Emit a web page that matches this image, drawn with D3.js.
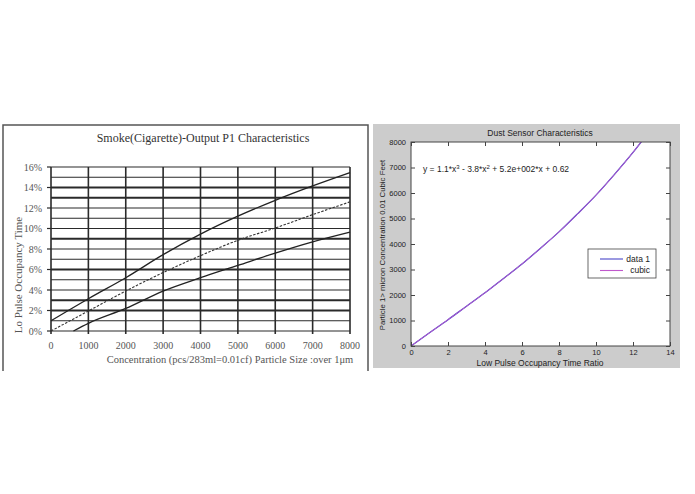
<!DOCTYPE html>
<html><head><meta charset="utf-8">
<script src="https://cdn.jsdelivr.net/npm/d3@7"></script>
<style>body{margin:0;background:#fff}svg{display:block}</style>
</head><body>
<svg id="c" width="695" height="494"></svg>
<script>
// ---------- Left chart data ----------
const smokeTitle = "Smoke(Cigarette)-Output P1 Characteristics";
const smokeXTicks = [0,1000,2000,3000,4000,5000,6000,7000,8000];
const smokeYTicks = [0,2,4,6,8,10,12,14,16];
const smokeYTickLabels = ["0%","2%","4%","6%","8%","10%","12%","14%","16%"];
const upperX = [0,1000,2000,3000,4000,5000,6000,7000,8000];
const upperY = [1.0,3.15,5.2,7.45,9.45,11.2,12.75,14.15,15.45];
const midX   = [0,1000,2000,3000,4000,5000,6000,7000,8000];
const midY   = [0,1.95,3.9,5.7,7.35,8.85,10.05,11.35,12.6];
const lowerX = [600,1000,2000,3000,4000,5000,6000,7000,8000];
const lowerY = [0,0.75,2.2,3.9,5.2,6.4,7.6,8.7,9.65];

// ---------- Right chart data ----------
const dustTitle = "Dust Sensor Characteristics";
const dustXTicks = [0,2,4,6,8,10,12,14];
const dustYTicks = [0,1000,2000,3000,4000,5000,6000,7000,8000];
const data1X = [0,1,2,3,4,5,6,7,8,9,10,11,12,12.6];
const data1Y = [0,520,1030,1560,2085,2650,3215,3835,4475,5180,5915,6730,7590,8150];
const cubicX = [0,0.5,1,1.5,2,2.5,3,3.5,4,4.5,5,5.5,6,6.5,7,7.5,8,8.5,9,9.5,10,10.5,11,11.5,12,12.5,13];
const cubicY = [1,261,518,774,1034,1294,1556,1821,2090,2364,2643,2928,3221,3522,3831,4150,4480,4820,5174,5540,5920,6314,6724,7150,7594,8055,8533];

const svg = d3.select("#c");
const serif = "'Liberation Serif','DejaVu Serif',serif";
const sans = "'Liberation Sans',Arial,sans-serif";

// ================= LEFT =================
const L = svg.append("g");
L.append("path").attr("d","M3,371V125H368V371").attr("fill","none").attr("stroke","#555").attr("stroke-width",1.5);
const lx = d3.scaleLinear().domain([0,8000]).range([51,350]);
const ly = d3.scaleLinear().domain([0,16]).range([331,167]);

L.append("text").attr("x",203).attr("y",142).attr("text-anchor","middle")
 .attr("font-family",serif).attr("font-size",12).attr("fill","#333").text(smokeTitle);

// horizontal grid every 1%
const hg = d3.range(0,17);
L.append("g").selectAll("line").data(hg).join("line")
 .attr("x1",lx(0)).attr("x2",lx(8000)).attr("y1",d=>ly(d)).attr("y2",d=>ly(d))
 .attr("stroke","#2a2a2a").attr("stroke-width",d=>[2,3,6,9,13,14].includes(d)?1.9:1.2);
// vertical grid
L.append("g").selectAll("line").data(smokeXTicks).join("line")
 .attr("x1",d=>lx(d)).attr("x2",d=>lx(d)).attr("y1",ly(16)).attr("y2",ly(0)+3)
 .attr("stroke","#2a2a2a").attr("stroke-width",1.6);
// y tick marks
L.append("g").selectAll("line").data(smokeYTicks).join("line")
 .attr("x1",lx(0)-4).attr("x2",lx(0)).attr("y1",d=>ly(d)).attr("y2",d=>ly(d))
 .attr("stroke","#2a2a2a").attr("stroke-width",1.2);

L.append("g").selectAll("text").data(smokeYTicks).join("text")
 .attr("x",42).attr("y",d=>ly(d)).attr("dy","0.35em").attr("text-anchor","end")
 .attr("font-family",serif).attr("font-size",10).attr("fill","#555")
 .text((d,i)=>smokeYTickLabels[i]);
L.append("g").selectAll("text").data(smokeXTicks).join("text")
 .attr("x",d=>lx(d)).attr("y",349).attr("text-anchor","middle")
 .attr("font-family",serif).attr("font-size",10).attr("fill","#555").text(d=>d);
L.append("text").attr("x",230).attr("y",363).attr("text-anchor","middle")
 .attr("font-family",serif).attr("font-size",10.5).attr("fill","#555")
 .text("Concentration (pcs/283ml=0.01cf)  Particle Size :over  1μm");
L.append("text").attr("transform","translate(22,275) rotate(-90)").attr("text-anchor","middle")
 .attr("font-family",serif).attr("font-size",11).attr("fill","#555")
 .text("Lo Pulse Occupancy  Time");

const lline = d3.line().x(d=>lx(d[0])).y(d=>ly(d[1])).curve(d3.curveMonotoneX);
L.append("path").attr("d",lline(d3.zip(upperX,upperY))).attr("fill","none").attr("stroke","#222").attr("stroke-width",1.3);
L.append("path").attr("d",lline(d3.zip(midX,midY))).attr("fill","none").attr("stroke","#333").attr("stroke-width",1.1).attr("stroke-dasharray","2.5,1.5");
L.append("path").attr("d",lline(d3.zip(lowerX,lowerY))).attr("fill","none").attr("stroke","#222").attr("stroke-width",1.3);

// ================= RIGHT =================
const R = svg.append("g");
R.append("rect").attr("x",373).attr("y",124).attr("width",307).attr("height",244).attr("fill","#cccccc");
const rx = d3.scaleLinear().domain([0,14]).range([411,670]);
const ry = d3.scaleLinear().domain([0,8000]).range([346,142]);
R.append("rect").attr("x",411).attr("y",142).attr("width",259).attr("height",204).attr("fill","#fff");

R.append("defs").append("clipPath").attr("id","rc").append("rect")
 .attr("x",411).attr("y",142).attr("width",259).attr("height",204);

const rline = d3.line().x(d=>rx(d[0])).y(d=>ry(d[1])).curve(d3.curveMonotoneX);
const gc = R.append("g").attr("clip-path","url(#rc)");
gc.append("path").attr("d",rline(d3.zip(data1X,data1Y))).attr("fill","none").attr("stroke","#4a45c8").attr("stroke-width",1.3);
gc.append("path").attr("d",rline(d3.zip(cubicX,cubicY))).attr("fill","none").attr("stroke","#c058cc").attr("stroke-width",0.9);

// axes with inner ticks
const tk = 4;
R.append("g").attr("transform","translate(0,346)").call(d3.axisBottom(rx).tickValues(dustXTicks).tickSizeInner(-tk).tickSizeOuter(0).tickPadding(4))
 .call(g=>{g.select(".domain").remove();g.selectAll("line").attr("stroke","#444");g.selectAll("text").attr("font-family",sans).attr("font-size",7.5).attr("fill","#222");});
R.append("g").attr("transform","translate(0,142)").call(d3.axisTop(rx).tickValues(dustXTicks).tickSizeInner(-tk).tickSizeOuter(0).tickFormat(""))
 .call(g=>{g.select(".domain").remove();g.selectAll("line").attr("stroke","#444");});
R.append("g").attr("transform","translate(411,0)").call(d3.axisLeft(ry).tickValues(dustYTicks).tickSizeInner(-tk).tickSizeOuter(0).tickPadding(5).tickFormat(d3.format("d")))
 .call(g=>{g.select(".domain").remove();g.selectAll("line").attr("stroke","#444");g.selectAll("text").attr("font-family",sans).attr("font-size",7.5).attr("fill","#222");});
R.append("g").attr("transform","translate(670,0)").call(d3.axisRight(ry).tickValues(dustYTicks).tickSizeInner(-tk).tickSizeOuter(0).tickFormat(""))
 .call(g=>{g.select(".domain").remove();g.selectAll("line").attr("stroke","#444");});
R.append("rect").attr("x",411).attr("y",142).attr("width",259).attr("height",204).attr("fill","none").attr("stroke","#444").attr("stroke-width",1);

R.append("text").attr("x",540).attr("y",136).attr("text-anchor","middle")
 .attr("font-family",sans).attr("font-size",8.5).attr("fill","#222").text(dustTitle);
R.append("text").attr("x",540).attr("y",366).attr("text-anchor","middle")
 .attr("font-family",sans).attr("font-size",8.5).attr("fill","#222").text("Low Pulse Occupancy Time Ratio");
R.append("text").attr("transform","translate(385,245) rotate(-90)").attr("text-anchor","middle")
 .attr("font-family",sans).attr("font-size",7.8).attr("fill","#222")
 .text("Particle 1> micron Concentration 0.01  Cubic Feet");

// equation
const eq = R.append("text").attr("x",423).attr("y",172).attr("font-family",sans).attr("font-size",8.5).attr("fill","#222");
eq.append("tspan").text("y = 1.1*x");
eq.append("tspan").attr("dy",-3.5).attr("font-size",6).text("3");
eq.append("tspan").attr("dy",3.5).text(" - 3.8*x");
eq.append("tspan").attr("dy",-3.5).attr("font-size",6).text("2");
eq.append("tspan").attr("dy",3.5).text(" + 5.2e+002*x + 0.62");

// legend
const lg = R.append("g");
lg.append("rect").attr("x",588).attr("y",249).attr("width",68).attr("height",29).attr("fill","#fff").attr("stroke","#444").attr("stroke-width",0.8);
const legItems = [["data 1","#4a45c8"],["cubic","#c058cc"]];
legItems.forEach((it,i)=>{
  const yy = 259 + i*11.5;
  lg.append("line").attr("x1",600).attr("x2",623).attr("y1",yy).attr("y2",yy).attr("stroke",it[1]).attr("stroke-width",1.1);
  lg.append("text").attr("x",650).attr("y",yy).attr("dy","0.35em").attr("text-anchor","end")
    .attr("font-family",sans).attr("font-size",8.5).attr("fill","#222").text(it[0]);
});
</script>
</body></html>
